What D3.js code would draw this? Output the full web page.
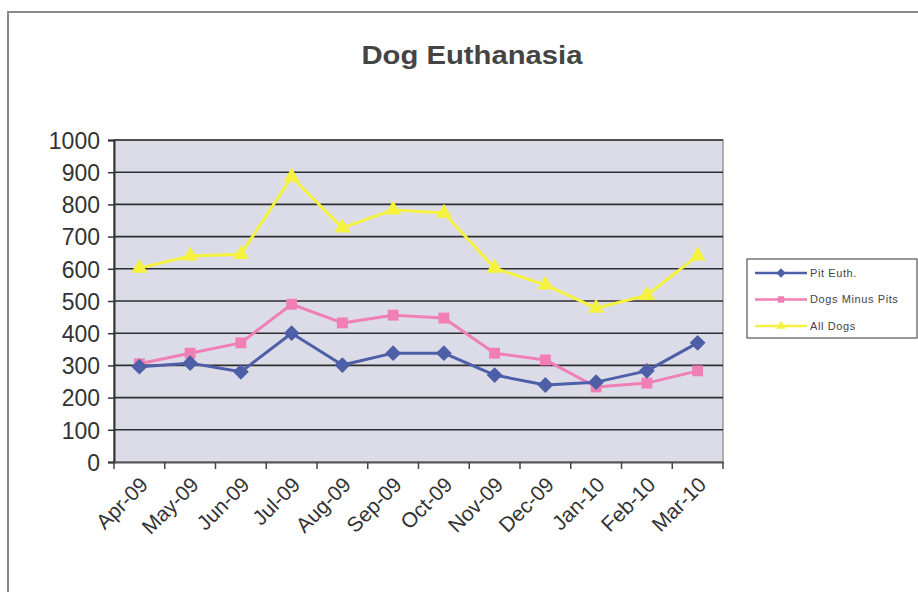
<!DOCTYPE html>
<html><head><meta charset="utf-8">
<script src="https://cdn.jsdelivr.net/npm/d3@7"></script>
<style>body{margin:0;background:#fff}svg{display:block}</style>
</head><body><svg id="c" width="918" height="592"></svg>
<script>
const months = ["Apr-09","May-09","Jun-09","Jul-09","Aug-09","Sep-09","Oct-09","Nov-09","Dec-09","Jan-10","Feb-10","Mar-10"];
const pitEuth = [296,307,280,400,301,338,338,270,239,248,283,370];
const dogsMinusPits = [305,338,370,490,432,456,447,338,317,233,245,283];
const allDogs = [602,640,645,885,727,783,773,602,550,478,518,640];
const yTicks = [0,100,200,300,400,500,600,700,800,900,1000];
const seriesNames = ["Pit Euth.","Dogs Minus Pits","All Dogs"];

const svg = d3.select("#c");
const L=114, R=723, T=140, B=462;
const x = d3.scaleBand().domain(months).range([L,R]);
const y = d3.scaleLinear().domain([0,1000]).range([B,T]);
const FF = "Liberation Sans, Arial, sans-serif";

// outer frame
svg.append("rect").attr("x",8).attr("y",12).attr("width",940).attr("height",600)
  .attr("fill","#fff").attr("stroke","#8a8a8a").attr("stroke-width",2);

// title
svg.append("text").attr("x",472).attr("y",64).attr("text-anchor","middle")
  .attr("font-family",FF).attr("font-size",26).attr("font-weight","bold")
  .attr("fill","#444").attr("textLength",221)
  .attr("lengthAdjust","spacingAndGlyphs").text("Dog Euthanasia");

// plot area
svg.append("rect").attr("x",L).attr("y",T).attr("width",R-L).attr("height",B-T)
  .attr("fill","#dcdce8").attr("stroke","#9a9a9a").attr("stroke-width",1.5);

// gridlines
svg.append("g").selectAll("line").data(yTicks.filter(d=>d>0)).join("line")
  .attr("x1",L).attr("x2",R).attr("y1",d=>y(d)).attr("y2",d=>y(d))
  .attr("stroke","#2e2e2e").attr("stroke-width",1.6);

// y axis
const ya = svg.append("g").attr("transform",`translate(${L},0)`)
  .call(d3.axisLeft(y).tickValues(yTicks).tickFormat(d3.format("d")).tickSize(6).tickPadding(8));
ya.select(".domain").attr("stroke","#333").attr("stroke-width",2);
ya.selectAll(".tick line").attr("stroke","#333").attr("stroke-width",1.5);
ya.selectAll("text").attr("font-family",FF)
  .attr("font-size",23).attr("fill","#333").attr("dy","0.36em");

// x axis
const xa = svg.append("g").attr("transform",`translate(0,${B})`)
  .call(d3.axisBottom(x).tickSize(0).tickFormat(d=>d));
xa.select(".domain").attr("stroke","#555").attr("stroke-width",2);
xa.selectAll(".tick text").attr("font-family",FF)
  .attr("font-size",21).attr("fill","#333").attr("text-anchor","end")
  .attr("y",0).attr("dy",0)
  .attr("transform","translate(10,24) rotate(-45)");
// boundary tick marks
svg.append("g").selectAll("line").data(months.concat(["__end"])).join("line")
  .attr("x1",(d,i)=>L+i*x.bandwidth()).attr("x2",(d,i)=>L+i*x.bandwidth())
  .attr("y1",B).attr("y2",B+7).attr("stroke","#444").attr("stroke-width",1.5);

const cx = d => x(d)+x.bandwidth()/2;
const series = [
  {name:seriesNames[0], vals:pitEuth, color:"#4d5fa6", shape:d3.symbolDiamond2, size:160},
  {name:seriesNames[1], vals:dogsMinusPits, color:"#ef7fb4", shape:d3.symbolSquare2, size:150},
  {name:seriesNames[2], vals:allDogs, color:"#f4f23e", shape:d3.symbolTriangle2, size:190}
];
const line = d3.line().x((d,i)=>cx(months[i])).y(d=>y(d));
[2,1,0].forEach(k=>{
  const s = series[k];
  svg.append("path").datum(s.vals).attr("d",line).attr("fill","none")
    .attr("stroke",s.color).attr("stroke-width",3).attr("stroke-linejoin","round");
  svg.append("g").selectAll("path").data(s.vals).join("path")
    .attr("transform",(d,i)=>`translate(${cx(months[i])},${y(d)})`)
    .attr("d",d3.symbol().type(s.shape).size(s.size)).attr("fill",s.color);
});

// legend
const lg = svg.append("g");
lg.append("rect").attr("x",747).attr("y",259).attr("width",170).attr("height",79)
  .attr("fill","#fff").attr("stroke","#555").attr("stroke-width",1.2);
series.forEach((s,i)=>{
  const yy = 273 + i*26.5;
  lg.append("line").attr("x1",755).attr("x2",807).attr("y1",yy).attr("y2",yy)
    .attr("stroke",s.color).attr("stroke-width",2.5);
  lg.append("path").attr("transform",`translate(781,${yy})`)
    .attr("d",d3.symbol().type(s.shape).size(s.size*0.35)).attr("fill",s.color);
  lg.append("text").attr("x",810).attr("y",yy).attr("dy","0.35em")
    .attr("font-family",FF).attr("font-size",11)
    .attr("letter-spacing",0.6).attr("fill","#444").text(s.name);
});
</script></body></html>
